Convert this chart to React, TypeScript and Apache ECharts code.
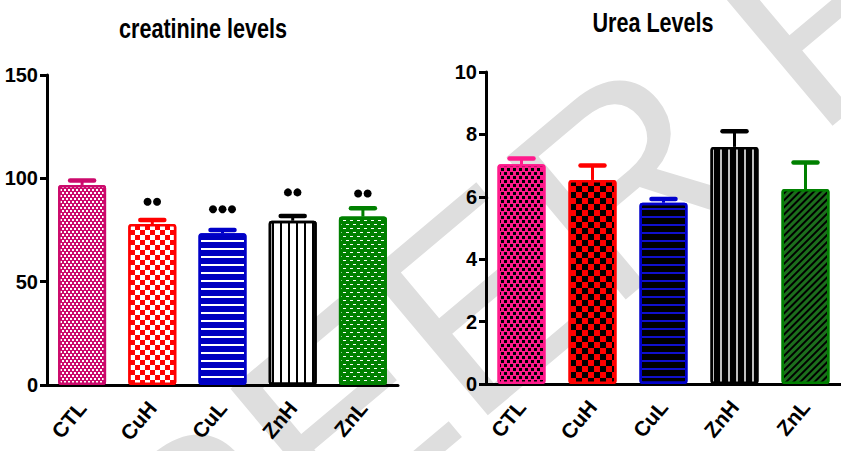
import React, { useEffect, useRef } from "react";
import * as echarts from "echarts";

const categories = ["CTL", "CuH", "CuL", "ZnH", "ZnL"];

const creatMean = [96.8, 77.9, 73.4, 79.5, 81.5];
const creatUpper = [98.9, 79.8, 75.0, 81.8, 85.5];
const creatSigCount = [0, 2, 3, 2, 2];
const creatSigY = [0, 88.7, 85.0, 93.2, 92.7];
const creatTicks = { min: 0, max: 150, interval: 50 };

const ureaMean = [7.04, 6.54, 5.81, 7.6, 6.25];
const ureaUpper = [7.23, 7.0, 5.93, 8.1, 7.1];
const ureaTicks = { min: 0, max: 10, interval: 2 };

const titles = ["creatinine levels", "Urea Levels"];
const watermark = "UNDER PEER REVIEW";

const FONT = "'Liberation Sans', Arial, sans-serif";

const checker = (s: number, color: string, gapY = 0) => ({
  symbol: "rect",
  symbolSize: 1,
  color,
  dashArrayX: [[s, s], [0, s, s, 0]],
  dashArrayY: [s, gapY],
});
const hLines = (t: number, gap: number, color: string) => ({
  symbol: "rect",
  symbolSize: 1,
  color,
  dashArrayX: [[1, 0]],
  dashArrayY: [t, gap],
});
const vLines = (t: number, gap: number, color: string, rotation = 0) => ({
  symbol: "rect",
  symbolSize: 1,
  color,
  dashArrayX: [[t, gap]],
  dashArrayY: [1, 0],
  rotation,
});

const creatStyles = [
  { color: "#cc0a6c", borderColor: "#cc0a6c", decal: checker(2, "#ffffff", 0.9) },
  { color: "#ff0000", borderColor: "#ff0000", decal: checker(5, "#ffffff") },
  { color: "#0000c0", borderColor: "#0000c8", decal: hLines(1.2, 5.1, "#ffffff") },
  { color: "#ffffff", borderColor: "#000000", decal: vLines(1.4, 5.4, "#000000") },
  {
    color: "#008000",
    borderColor: "#008000",
    decal: { symbol: "rect", symbolSize: 1, color: "#ffffff", dashArrayX: [[2.5, 3.5], [0, 3, 2.5, 0.5]], dashArrayY: [1, 3] },
  },
];
const creatErrColors = ["#cc0a6c", "#ff0000", "#0000c8", "#000000", "#008000"];

const ureaStyles = [
  { color: "#ff1a8c", borderColor: "#ff1a8c", decal: checker(2.2, "#000000", 0.7) },
  { color: "#ff0000", borderColor: "#ff0000", decal: checker(6, "#000000") },
  { color: "#000000", borderColor: "#0000cc", decal: hLines(1.4, 5.1, "#1010cc") },
  { color: "#000000", borderColor: "#000000", decal: vLines(1.6, 5.1, "#c0c0c0") },
  { color: "#1c6e1c", borderColor: "#008000", decal: vLines(2, 2.2, "#000000", Math.PI / 4) },
];
const ureaErrColors = ["#ff1a8c", "#ff0000", "#0000cc", "#000000", "#008000"];

function barSeries(idx: number, vals: number[], styles: any[]) {
  return {
    type: "bar",
    xAxisIndex: idx,
    yAxisIndex: idx,
    barWidth: 48,
    z: 3,
    data: vals.map((v, i) => ({
      value: v,
      itemStyle: { ...styles[i], borderWidth: 2.5, borderRadius: 2 },
    })),
  };
}

function errSeries(idx: number, mean: number[], upper: number[], colors: string[]) {
  return {
    type: "custom",
    xAxisIndex: idx,
    yAxisIndex: idx,
    z: 4,
    data: mean.map((m, i) => [i, m, upper[i]]),
    renderItem: (params: any, api: any) => {
      const i = api.value(0);
      const p0 = api.coord([i, api.value(1)]);
      const p1 = api.coord([i, api.value(2)]);
      const c = colors[i];
      return {
        type: "group",
        children: [
          { type: "line", shape: { x1: p0[0], y1: p0[1], x2: p1[0], y2: p1[1] }, style: { stroke: c, lineWidth: 3 } },
          {
            type: "line",
            shape: { x1: p1[0] - 12, y1: p1[1], x2: p1[0] + 12, y2: p1[1] },
            style: { stroke: c, lineWidth: 4.5, lineCap: "round" },
          },
        ],
      };
    },
  };
}

function sigSeries(idx: number, counts: number[], ys: number[]) {
  return {
    type: "custom",
    xAxisIndex: idx,
    yAxisIndex: idx,
    z: 5,
    data: counts.map((n, i) => [i, ys[i], n]),
    renderItem: (params: any, api: any) => {
      const i = api.value(0);
      const n = api.value(2);
      const p = api.coord([i, api.value(1)]);
      const children: any[] = [];
      for (let k = 0; k < n; k++) {
        children.push({
          type: "circle",
          shape: { cx: p[0] + (k - (n - 1) / 2) * 9.5, cy: p[1], r: 4 },
          style: { fill: "#000" },
        });
      }
      return { type: "group", children };
    },
  };
}

function xAxisCfg(idx: number) {
  return {
    type: "category",
    gridIndex: idx,
    data: categories,
    axisLine: { lineStyle: { color: "#000", width: 3 } },
    axisTick: { alignWithLabel: true, length: 7, lineStyle: { color: "#000", width: 3 } },
    axisLabel: { rotate: 50, margin: 19, color: "#000", fontWeight: "bold", fontSize: 21, fontFamily: FONT },
  };
}

function yAxisCfg(idx: number, t: { min: number; max: number; interval: number }) {
  return {
    type: "value",
    gridIndex: idx,
    min: t.min,
    max: t.max,
    interval: t.interval,
    splitLine: { show: false },
    axisLine: { show: true, lineStyle: { color: "#000", width: 3 } },
    axisTick: { show: true, length: 7, lineStyle: { color: "#000", width: 3 } },
    axisLabel: { margin: 9, color: "#000", fontWeight: "bold", fontSize: 20, fontFamily: FONT },
  };
}

export default function App() {
  const ref = useRef<HTMLDivElement>(null);
  useEffect(() => {
    if (!ref.current) return;
    const chart = echarts.init(ref.current, null, { renderer: "svg" });
    chart.setOption({
      animation: false,
      backgroundColor: "#ffffff",
      grid: [
        { left: 47, top: 75, width: 351, height: 310 },
        { left: 486, top: 72, width: 364, height: 312 },
      ],
      xAxis: [xAxisCfg(0), xAxisCfg(1)],
      yAxis: [yAxisCfg(0, creatTicks), yAxisCfg(1, ureaTicks)],
      graphic: [
        {
          type: "text",
          x: -658,
          y: 1255,
          rotation: (40 * Math.PI) / 180,
          z: -10,
          silent: true,
          style: { text: watermark, fontSize: 270, fontFamily: FONT, fill: "#dedede", align: "left", verticalAlign: "middle" },
        },
        {
          type: "text",
          x: 203,
          y: 29,
          scaleX: 0.8,
          style: { text: titles[0], fontSize: 27, fontWeight: "bold", fontFamily: FONT, fill: "#000", align: "center", verticalAlign: "middle" },
        },
        {
          type: "text",
          x: 653,
          y: 23,
          scaleX: 0.8,
          style: { text: titles[1], fontSize: 27, fontWeight: "bold", fontFamily: FONT, fill: "#000", align: "center", verticalAlign: "middle" },
        },
      ],
      series: [
        barSeries(0, creatMean, creatStyles),
        errSeries(0, creatMean, creatUpper, creatErrColors),
        sigSeries(0, creatSigCount, creatSigY),
        barSeries(1, ureaMean, ureaStyles),
        errSeries(1, ureaMean, ureaUpper, ureaErrColors),
      ],
    });
    return () => chart.dispose();
  }, []);
  return <div ref={ref} style={{ position: "absolute", left: 0, top: 0, width: 841, height: 451 }} />;
}
